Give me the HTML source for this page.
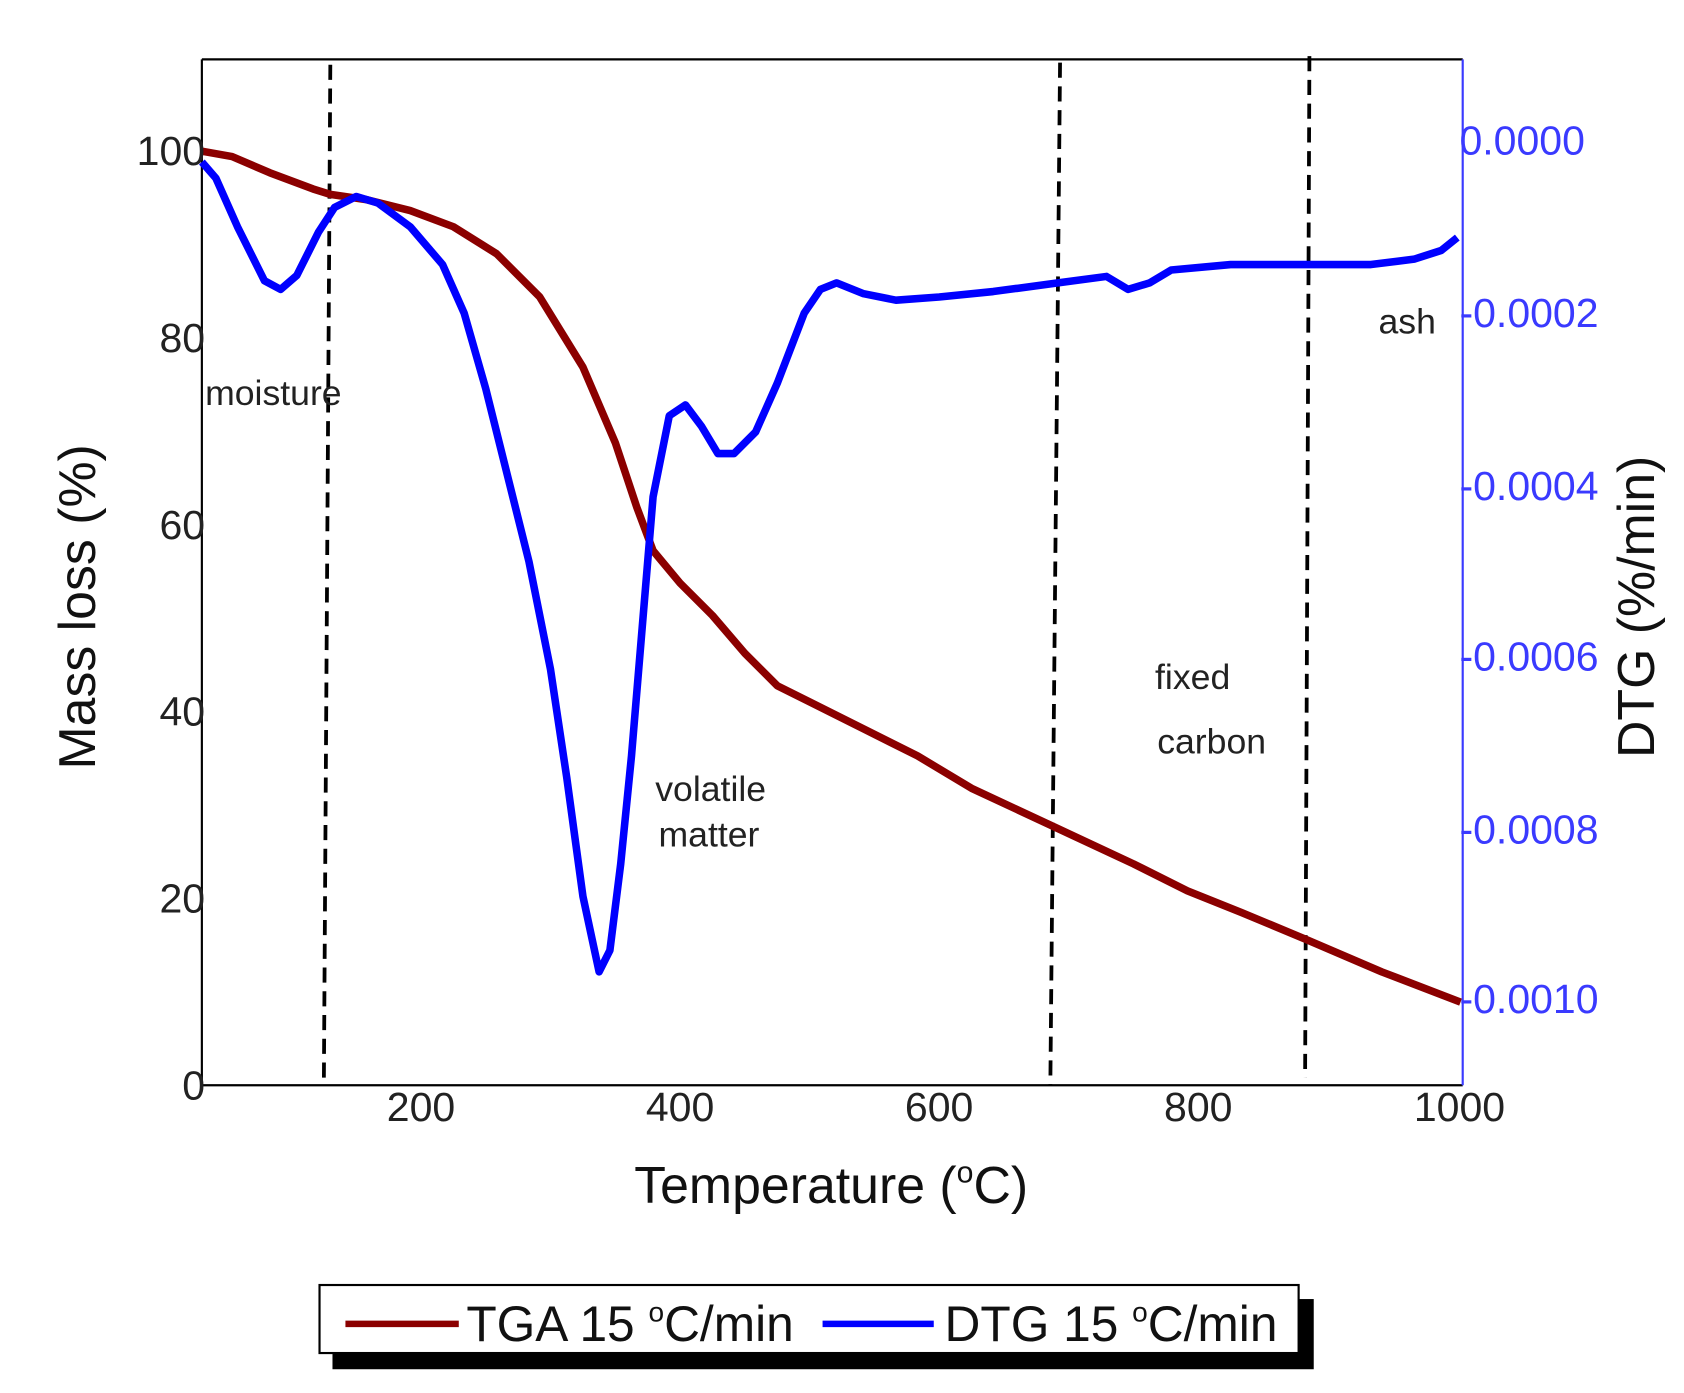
<!DOCTYPE html>
<html><head><meta charset="utf-8"><style>
html,body{margin:0;padding:0;background:#fff;}
svg{display:block;}
text{font-family:"Liberation Sans",Arial,sans-serif;}
</style></head><body>
<svg width="1684" height="1393" viewBox="0 0 1560 1290" preserveAspectRatio="none" xmlns="http://www.w3.org/2000/svg">
<rect width="1560" height="1290" fill="#fff"/>
<line x1="187" y1="55" x2="1355" y2="55" stroke="#000" stroke-width="2"/>
<line x1="187" y1="55" x2="187" y2="1005" stroke="#000" stroke-width="2"/>
<line x1="187" y1="1005" x2="1355" y2="1005" stroke="#000" stroke-width="2"/>
<line x1="1355" y1="55" x2="1355" y2="1005" stroke="#3a3aff" stroke-width="2"/>
<g stroke="#000" stroke-width="3.5" stroke-dasharray="14,8">
<line x1="306" y1="60" x2="300" y2="1005"/>
<line x1="982" y1="58" x2="973" y2="1005"/>
<line x1="1213" y1="52" x2="1209" y2="998"/>
</g>
<polyline fill="none" stroke="#8b0000" stroke-width="7" stroke-linejoin="round" points="187,140 215,145 250,160 290,175 306,180 340,185 380,195 420,210 460,235 500,275 540,340 570,410 590,470 605,510 630,540 660,570 690,605 720,635 750,650 800,675 850,700 900,730 975,765 1050,800 1100,825 1150,845 1210,870 1280,900 1353,928"/>
<polyline fill="none" stroke="#0000ff" stroke-width="7" stroke-linejoin="round" points="187,150 200,165 220,210 245,260 260,268 275,255 295,215 310,192 330,182 350,188 380,210 410,245 430,290 450,360 470,440 490,520 510,620 525,720 540,830 555,900 565,880 575,800 585,700 595,580 605,460 620,385 635,375 650,395 665,420 680,420 700,400 720,355 745,290 760,268 775,262 800,272 830,278 870,275 920,270 980,262 1025,256 1045,268 1065,262 1085,250 1140,245 1210,245 1270,245 1310,240 1335,232 1350,220"/>
<g font-size="38" fill="#222" text-anchor="end">
<text x="190" y="153">100</text><text x="190" y="326">80</text><text x="190" y="499">60</text>
<text x="190" y="672">40</text><text x="190" y="845">20</text><text x="190" y="1018">0</text>
</g>
<g font-size="38" fill="#222" text-anchor="middle">
<text x="390" y="1038">200</text><text x="630" y="1038">400</text><text x="870" y="1038">600</text>
<text x="1110" y="1038">800</text><text x="1352" y="1038">1000</text>
</g>
<g font-size="38" fill="#3a3aff">
<text x="1352" y="143">0.0000</text><text x="1352" y="303">-0.0002</text><text x="1352" y="463">-0.0004</text>
<text x="1352" y="621">-0.0006</text><text x="1352" y="781">-0.0008</text><text x="1352" y="938">-0.0010</text>
</g>
<g font-size="33" fill="#222">
<text x="190" y="375">moisture</text>
<text x="607" y="742">volatile</text><text x="610" y="784">matter</text>
<text x="1070" y="638">fixed</text><text x="1072" y="698">carbon</text>
<text x="1277" y="309">ash</text>
</g>
<text font-size="48" fill="#111" text-anchor="middle" transform="translate(88,562) rotate(-90)">Mass loss (%)</text>
<text font-size="48" fill="#111" text-anchor="middle" transform="translate(1532,562) rotate(-90)">DTG (%/min)</text>
<text x="770" y="1114" font-size="48" fill="#111" text-anchor="middle">Temperature (<tspan font-size="28" dy="-19">o</tspan><tspan dy="19">C)</tspan></text>
<rect x="308" y="1203" width="909" height="65" fill="#000"/>
<rect x="296" y="1190" width="907" height="63" fill="#fff" stroke="#000" stroke-width="2"/>
<line x1="320" y1="1226" x2="425" y2="1226" stroke="#8b0000" stroke-width="6"/>
<line x1="762" y1="1226" x2="865" y2="1226" stroke="#0000ff" stroke-width="6"/>
<text x="432" y="1242" font-size="46" fill="#111">TGA 15 <tspan font-size="26" dy="-18">o</tspan><tspan dy="18">C/min</tspan></text>
<text x="875" y="1242" font-size="46" fill="#111">DTG 15 <tspan font-size="26" dy="-18">o</tspan><tspan dy="18">C/min</tspan></text>
</svg>
</body></html>
